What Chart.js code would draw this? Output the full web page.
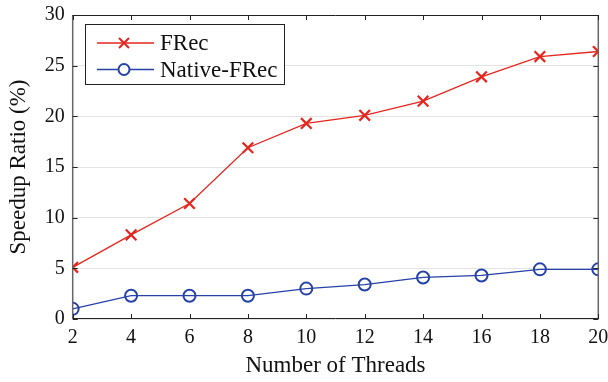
<!DOCTYPE html>
<html>
<head>
<meta charset="utf-8">
<script src="https://cdn.jsdelivr.net/npm/chart.js@4"></script>
<style>
  html, body { margin: 0; padding: 0; background: #fff; }
  #wrap { width: 608px; height: 382px; }
</style>
</head>
<body>
<div id="wrap"><canvas id="speedup"></canvas></div>
<script>
const threads = [2, 4, 6, 8, 10, 12, 14, 16, 18, 20];
const frec = [5.1, 8.3, 11.4, 16.9, 19.3, 20.1, 21.5, 23.9, 25.9, 26.4];
const nativeFrec = [1.0, 2.3, 2.3, 2.3, 3.0, 3.4, 4.1, 4.3, 4.9, 4.9];
const seriesNames = ['FRec', 'Native-FRec'];

const RED = 'rgb(228, 38, 30)';
const BLUE = 'rgb(38, 66, 168)';
const FONT = "'Liberation Serif', 'Times New Roman', serif";

// MATLAB-ish frame: box, inward ticks and a boxed legend
const framePlugin = {
  id: 'frame',
  afterDatasetsDraw(chart) {
    const { ctx, chartArea: a, scales } = chart;
    const tick = 5;
    ctx.save();
    ctx.lineWidth = 1;
    ctx.strokeStyle = '#222';
    // top + bottom
    ctx.beginPath();
    ctx.moveTo(a.left, a.top + 0.5); ctx.lineTo(a.right, a.top + 0.5);
    ctx.moveTo(a.left, a.bottom - 0.5); ctx.lineTo(a.right, a.bottom - 0.5);
    ctx.stroke();
    // sides (slightly grey and thicker)
    ctx.strokeStyle = '#666';
    ctx.lineWidth = 1.5;
    ctx.beginPath();
    ctx.moveTo(a.left, a.top); ctx.lineTo(a.left, a.bottom);
    ctx.moveTo(a.right, a.top); ctx.lineTo(a.right, a.bottom);
    ctx.stroke();
    // inward ticks
    ctx.strokeStyle = '#222';
    ctx.lineWidth = 1;
    ctx.beginPath();
    scales.x.ticks.forEach(t => {
      const x = Math.round(scales.x.getPixelForValue(t.value)) + 0.5;
      ctx.moveTo(x, a.bottom); ctx.lineTo(x, a.bottom - tick);
      ctx.moveTo(x, a.top); ctx.lineTo(x, a.top + tick);
    });
    scales.y.ticks.forEach(t => {
      const y = Math.round(scales.y.getPixelForValue(t.value)) + 0.5;
      ctx.moveTo(a.left, y); ctx.lineTo(a.left + tick, y);
      ctx.moveTo(a.right, y); ctx.lineTo(a.right - tick, y);
    });
    ctx.stroke();

    // legend
    const bx = 85.5, by = 24.5, bw = 199, bh = 60;
    ctx.fillStyle = '#fff';
    ctx.fillRect(bx, by, bw, bh);
    ctx.strokeStyle = '#222';
    ctx.lineWidth = 1;
    ctx.strokeRect(bx, by, bw, bh);
    ctx.font = '23px ' + FONT;
    ctx.textBaseline = 'middle';
    chart.data.datasets.forEach((ds, i) => {
      const y = 43 + i * 26.5;
      ctx.strokeStyle = ds.borderColor;
      ctx.lineWidth = 1.3;
      ctx.beginPath();
      ctx.moveTo(97, y); ctx.lineTo(154, y);
      ctx.stroke();
      ctx.lineWidth = 2;
      ctx.beginPath();
      if (ds.pointStyle === 'crossRot') {
        const r = 5;
        ctx.moveTo(124 - r, y - r); ctx.lineTo(124 + r, y + r);
        ctx.moveTo(124 - r, y + r); ctx.lineTo(124 + r, y - r);
      } else {
        ctx.arc(124, y, 5.5, 0, Math.PI * 2);
        ctx.fillStyle = '#fff';
        ctx.fill();
      }
      ctx.stroke();
      ctx.fillStyle = '#111';
      ctx.fillText(ds.label, 160, y + 1);
    });
    ctx.restore();
  }
};

new Chart(document.getElementById('speedup'), {
  type: 'line',
  data: {
    datasets: [
      {
        label: seriesNames[0],
        data: threads.map((t, i) => ({ x: t, y: frec[i] })),
        borderColor: RED,
        backgroundColor: RED,
        borderWidth: 1.3,
        pointStyle: 'crossRot',
        pointRadius: 7.5,
        pointBorderWidth: 2.2,
        pointBorderColor: RED
      },
      {
        label: seriesNames[1],
        data: threads.map((t, i) => ({ x: t, y: nativeFrec[i] })),
        borderColor: BLUE,
        backgroundColor: '#fff',
        borderWidth: 1.3,
        pointStyle: 'circle',
        pointRadius: 6,
        pointBorderWidth: 2,
        pointBorderColor: BLUE,
        pointBackgroundColor: 'rgba(255,255,255,0)'
      }
    ]
  },
  options: {
    responsive: true,
    maintainAspectRatio: false,
    animation: false,
    layout: { padding: { top: 15, right: 9, left: 0, bottom: 0 } },
    plugins: {
      legend: { display: false },
      tooltip: { enabled: false }
    },
    scales: {
      x: {
        type: 'linear',
        min: 2,
        max: 20,
        afterFit: s => { s.height = 63; s.paddingLeft = 0; s.paddingRight = 0; },
        ticks: { stepSize: 2, color: '#111', padding: 7, font: { family: FONT, size: 20 } },
        grid: { display: false, drawTicks: false },
        border: { display: false },
        title: {
          display: true,
          text: 'Number of Threads',
          color: '#111',
          font: { family: FONT, size: 23 },
          padding: { top: 0, bottom: 2 }
        }
      },
      y: {
        min: 0,
        max: 30,
        afterFit: s => { s.width = 72.7; s.paddingTop = 0; s.paddingBottom = 0; },
        ticks: { stepSize: 5, color: '#111', padding: 8, font: { family: FONT, size: 20 } },
        grid: { color: '#e3e3e3', drawTicks: false },
        border: { display: false },
        title: {
          display: true,
          text: 'Speedup Ratio (%)',
          color: '#111',
          font: { family: FONT, size: 23 },
          padding: { top: 5, bottom: 0 }
        }
      }
    }
  },
  plugins: [framePlugin]
});
</script>
</body>
</html>
